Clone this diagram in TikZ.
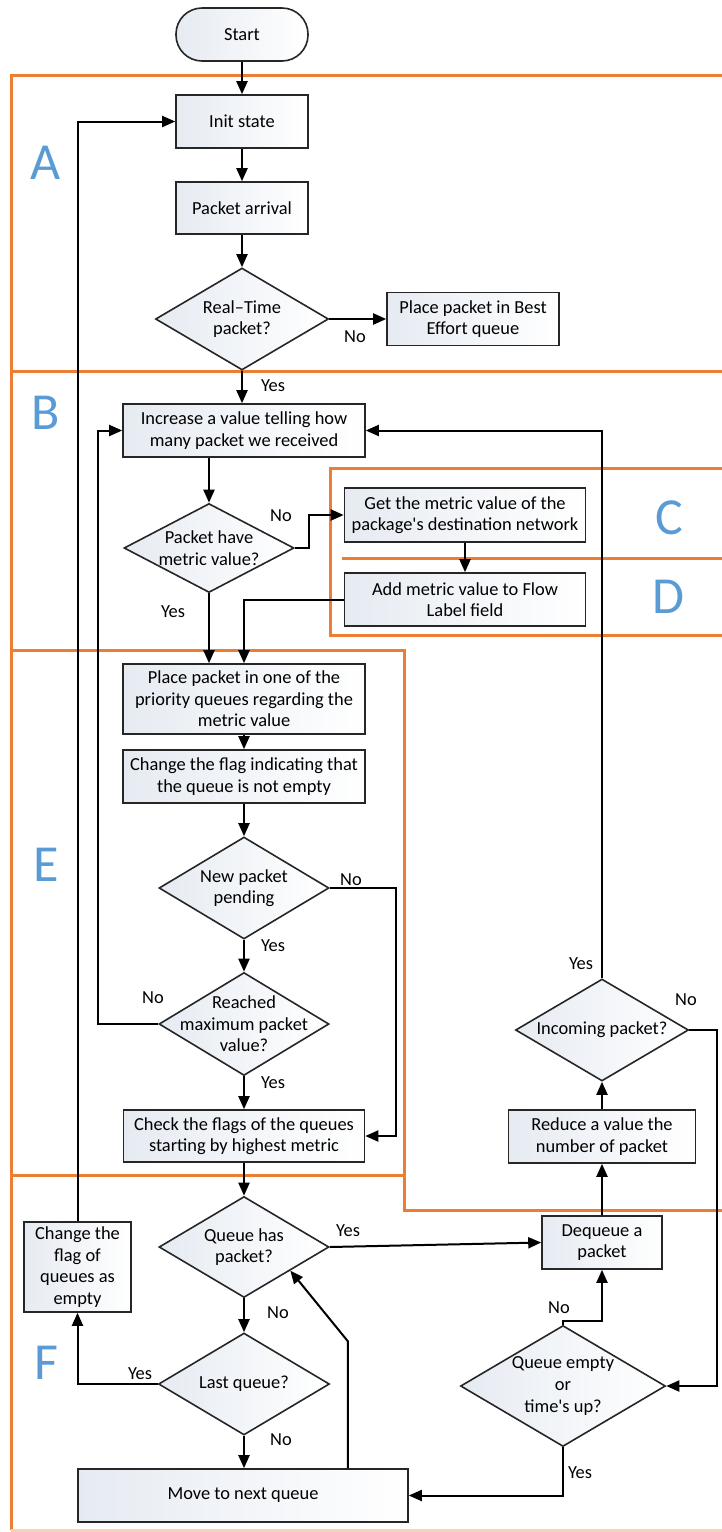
\documentclass[tikz,border=0pt]{standalone}
\usepackage{fontspec}
\setmainfont{Carlito}
\usetikzlibrary{shapes.geometric,arrows.meta,calc}
\definecolor{orng}{HTML}{ED7D31}
\definecolor{lblue}{HTML}{5B9BD5}
\definecolor{boxl}{HTML}{E6EBF2}
\begin{document}
\begin{tikzpicture}[x=0.5pt,y=-0.5pt,
  txt/.style={font=\fontsize{9.2}{10.8}\selectfont, align=center, inner sep=0pt},
  bx/.style 2 args={draw=black!85, line width=0.8pt, left color=boxl, right color=white,
     txt, minimum width=#1*0.5pt, minimum height=#2*0.5pt},
  dia/.style 2 args={diamond, draw=black!85, line width=0.8pt, left color=boxl, right color=white,
     inner sep=0pt, minimum width=#1*0.5pt, minimum height=#2*0.5pt},
  lbl/.style={font=\fontsize{9.2}{10.8}\selectfont, inner sep=0pt},
  arr/.style={-{Triangle[length=6.5pt,width=5.5pt]}, line width=1pt},
  sect/.style={draw=orng, line width=1.5pt},
  big/.style={text=lblue, font=\fontsize{26}{30}\selectfont, inner sep=0pt}]
\useasboundingbox (0,0) rectangle (722,1532);

% orange section frames
\draw[sect] (11,1530) -- (11,75) -- (722,75);
\draw[sect] (11,371) -- (722,371);
\draw[sect] (722,468) -- (330,468) -- (330,635) -- (722,635);
\draw[sect] (342,558) -- (722,558);
\draw[sect] (11,650) -- (404,650) -- (404,1210) -- (722,1210);
\draw[sect] (11,1175) -- (404,1175);
\draw[draw=orng!35, line width=1.5pt] (11,1530) -- (722,1530);

% section letters
\node[big] (la) at (46,163) {A};
\node[big] (lb) at (46,413) {B};
\node[big] (lc) at (669,518) {C};
\node[big] (ld) at (668,597) {D};
\node[big] (le) at (46,865) {E};
\node[big] (lf) at (46,1363) {F};

% nodes
\node[bx={132}{53}, rounded corners=13pt] (start) at (242,34.5) {Start};
\node[bx={132}{53}] (init) at (242,121.5) {Init state};
\node[bx={132}{52}] (pa) at (242,208) {Packet arrival};
\node[dia={173}{102}, label={[txt]center:Real–Time\\packet?}] (d1) at (242,319) {};
\node[bx={172}{53}] (best) at (473,319) {Place packet in Best\\Effort queue};
\node[bx={242}{53}] (inc) at (244,430.5) {Increase a value telling how\\many packet we received};
\node[dia={170}{89}, label={[txt]center:Packet have\\metric value?}] (d2) at (209,548) {};
\node[bx={241}{54}] (get) at (465,515) {Get the metric value of the\\package\textquotesingle s destination network};
\node[bx={241}{53}] (add) at (465,599.5) {Add metric value to Flow\\Label field};
\node[bx={242}{70}] (place) at (244,699) {Place packet in one of the\\priority queues regarding the\\metric value};
\node[bx={242}{53}] (flag) at (244,776.5) {Change the flag indicating that\\the queue is not empty};
\node[dia={170}{102}, label={[txt]center:New packet\\pending}] (d3) at (244,888) {};
\node[dia={170}{103}, label={[txt]center:Reached\\maximum packet\\value?}] (d4) at (244,1024) {};
\node[bx={241}{52}] (check) at (244,1136) {Check the flags of the queues\\starting by highest metric};
\node[dia={173}{102}, label={[txt]center:Incoming packet?}] (d5) at (602,1030) {};
\node[bx={187}{53}] (reduce) at (602,1136.5) {Reduce a value the\\number of packet};
\node[dia={170}{101}, label={[txt]center:Queue has\\packet?}] (d6) at (244,1247) {};
\node[bx={120}{53}] (deq) at (602,1242.5) {Dequeue a\\packet};
\node[bx={107}{90}] (chg) at (77.5,1267) {Change the\\flag of\\queues as\\empty};
\node[dia={171}{102}, label={[txt]center:Last queue?}] (d7) at (244,1384) {};
\node[dia={205}{121}, label={[txt]center:Queue empty\\or\\time\textquotesingle s up?}] (d8) at (563,1386) {};
\node[bx={330}{53}] (move) at (243,1495.5) {Move to next queue};

% connectors
\draw[arr] (start) -- (init);
\draw[arr] (init) -- (pa);
\draw[arr] (pa) -- (d1);
\draw[arr] (d1.east) -- (best.west);
\draw[arr] (d1.south) -- (d1.south |- inc.north);
\draw[arr] (inc.south -| d2.north) -- (d2.north);
\draw[arr] (d2.east) -- ++(14,0) |- (get.west);
\draw[arr] (get) -- (add);
\draw[arr] (add.west) -| (place.north);
\draw[arr] (d2.south) -- (d2.south |- place.north);
\draw[arr] (place) -- (flag);
\draw[arr] (flag) -- (d3);
\draw[arr] (d3.east) -- ++(66,0) |- (check.east);
\draw[arr] (d3) -- (d4);
\draw[arr] (d4.west) -- ++(-60,0) |- (inc.west);
\draw[arr] (d4) -- (check);
\draw[arr] (check) -- (d6);
\draw[arr] (d6.east) -- (deq.west);
\draw[arr] (d6) -- (d7);
\draw[arr] (d7.west) -| (chg.south);
\draw[arr] (chg.north) |- (init.west);
\draw[arr] (d7.south) -- (d7.south |- move.north);
\draw[arr] ($(move.north east)+(-61,0)$) -- ++(0,-127) -- ($(d6.east)!0.46!(d6.south)$);
\draw[arr] (d8.north) -- ++(0,-4) -| (deq.south);
\draw[arr] (d8.south) |- (move.east);
\draw[arr] (deq) -- (reduce);
\draw[arr] (reduce) -- (d5);
\draw[arr] (d5.north) |- (inc.east);
\draw[arr] (d5.east) -- ++(28,0) |- (d8.east);

% connector labels
\node[lbl] (n1) at (355,337) {No};
\node[lbl] (y1) at (273,386) {Yes};
\node[lbl] (n2) at (281,516) {No};
\node[lbl] (y2) at (173,612) {Yes};
\node[lbl] (n3) at (351,880) {No};
\node[lbl] (y3) at (273,946) {Yes};
\node[lbl] (n4) at (153,998) {No};
\node[lbl] (y4) at (273,1083) {Yes};
\node[lbl] (y5) at (581,964) {Yes};
\node[lbl] (n5) at (686,1000) {No};
\node[lbl] (y6) at (348,1231) {Yes};
\node[lbl] (n6) at (278,1313) {No};
\node[lbl] (y7) at (140,1374) {Yes};
\node[lbl] (n7) at (281,1440) {No};
\node[lbl] (n8) at (559,1308) {No};
\node[lbl] (y8) at (580,1473) {Yes};
\end{tikzpicture}
\end{document}
